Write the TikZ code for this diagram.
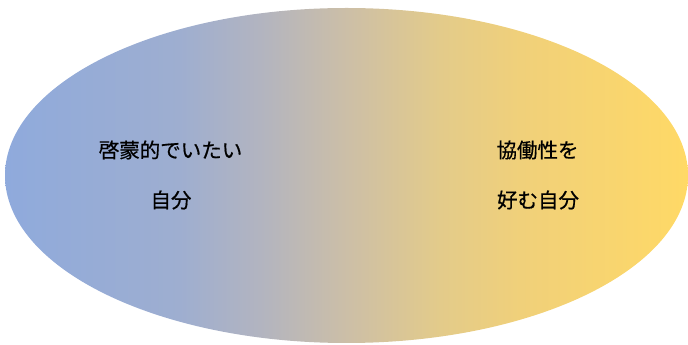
\documentclass[tikz,border=0pt]{standalone}
\usepackage{fontspec}
\newfontfamily\jp[FakeBold=0.6]{Noto Sans CJK JP}
\definecolor{g0}{HTML}{8FAADC}
\definecolor{g1}{HTML}{9EAED0}
\definecolor{g2}{HTML}{B2B4C0}
\definecolor{g3}{HTML}{CDBFA6}
\definecolor{g4}{HTML}{E3CB8A}
\definecolor{g5}{HTML}{F0D07A}
\definecolor{g6}{HTML}{FFD966}
\pgfdeclarehorizontalshading{bluegold}{100bp}{color(0bp)=(g0); color(25bp)=(g0); color(37.8bp)=(g1); color(43.65bp)=(g2); color(50.25bp)=(g3); color(56.85bp)=(g4); color(62.7bp)=(g5); color(75bp)=(g6); color(100bp)=(g6)}
\begin{document}
\begin{tikzpicture}[x=1pt,y=1pt,
  lbl/.style={font=\jp\fontsize{20.5}{24}\selectfont, text=black, inner sep=0pt, anchor=center}]
\useasboundingbox (0,0) rectangle (688,345);
\begin{scope}
\clip (0,0) rectangle (688,345);
\shade[shading=bluegold] (346.5,169.5) ellipse [x radius=341.5, y radius=167.5];
\end{scope}
\node[lbl] (l1) at (170.5,195) {啓蒙的でいたい};
\node[lbl] (l2) at (171,145) {自分};
\node[lbl] (r1) at (537.5,195) {協働性を};
\node[lbl] (r2) at (538,145) {好む自分};
\end{tikzpicture}
\end{document}
